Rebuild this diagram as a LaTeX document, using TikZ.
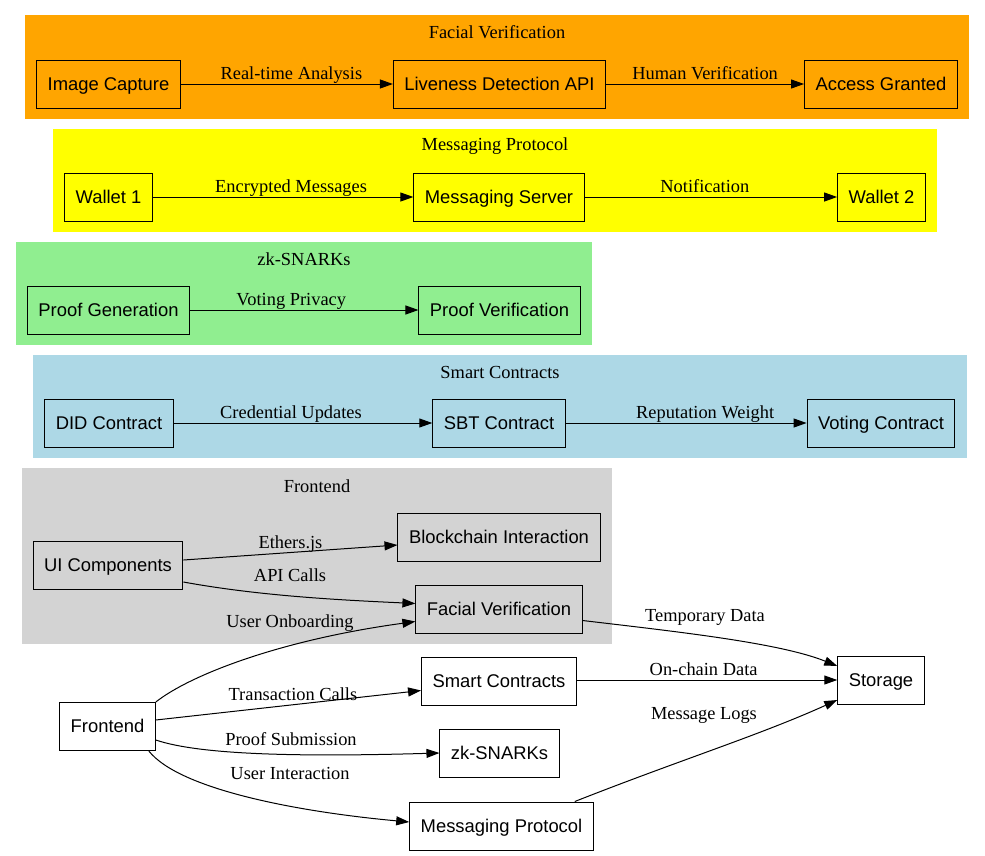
\documentclass[tikz,border=0pt]{standalone}
\usepackage{fontspec}
\setmainfont{Liberation Serif}
\newfontfamily\boxfont{Liberation Sans}
\usepackage{tikz}
\usetikzlibrary{arrows.meta}

\definecolor{clorange}{HTML}{FFA500}
\definecolor{clyellow}{HTML}{FFFF00}
\definecolor{clgreen}{HTML}{90EE90}
\definecolor{clblue}{HTML}{ADD8E6}
\definecolor{clgray}{HTML}{D3D3D3}

\tikzset{
  box/.style={draw, line width=1pt, minimum height=48pt, inner xsep=11pt,
              text height=16pt, text depth=4pt,
              font=\boxfont\fontsize{18.4}{22}\selectfont},
  wbox/.style={box, fill=white},
  lbl/.style={font=\fontsize{18.4}{22}\selectfont, inner sep=0pt,
              text height=12.5pt, text depth=4pt},
  title/.style={font=\fontsize{18.4}{22}\selectfont},
  edge/.style={line width=1pt, -{Triangle[length=13pt,width=9pt]}}
}

\begin{document}
\begin{tikzpicture}[x=1pt, y=-1pt]
      \useasboundingbox (0, 0) rectangle (985, 855);
      % clusters
      \fill[clorange] (25, 15) rectangle (969, 119);
      \fill[clyellow] (53, 129) rectangle (937, 232);
      \fill[clgreen] (16, 242) rectangle (592, 345);
      \fill[clblue] (33, 355) rectangle (967, 458);
      \fill[clgray] (22, 468) rectangle (612, 644);
      \node[title] (tfacial) at (497, 32) {Facial Verification};
      \node[title] (tmsg) at (495, 146) {Messaging Protocol};
      \node[title] (tzk) at (304, 259) {zk-SNARKs};
      \node[title] (tsmart) at (500, 372) {Smart Contracts};
      \node[title] (tfront) at (317, 486) {Frontend};

      % facial verification
      \node[box] (imgcap) at (108.5, 84) {Image Capture};
      \node[box] (liveness) at (499.5, 84) {Liveness Detection API};
      \node[box] (access) at (881, 84) {Access Granted};
      \draw[edge] (imgcap) -- node[lbl, above, xshift=4.5pt] {Real-time Analysis} (liveness);
      \draw[edge] (liveness) -- node[lbl, above] {Human Verification} (access);

      % messaging protocol
      \node[box] (wallet1) at (108.5, 197) {Wallet 1};
      \node[box] (msgserver) at (499, 197) {Messaging Server};
      \node[box] (wallet2) at (881.5, 197) {Wallet 2};
      \draw[edge] (wallet1) -- node[lbl, above, xshift=8pt] {Encrypted Messages} (msgserver);
      \draw[edge] (msgserver) -- node[lbl, above, xshift=-6pt] {Notification} (wallet2);

      % zk-snarks
      \node[box] (proofgen) at (108.5, 310) {Proof Generation};
      \node[box] (proofver) at (499.5, 310) {Proof Verification};
      \draw[edge] (proofgen) -- node[lbl, above, xshift=-13pt] {Voting Privacy} (proofver);

      % smart contracts
      \node[box] (didc) at (109, 423) {DID Contract};
      \node[box] (sbtc) at (499, 423) {SBT Contract};
      \node[box] (votec) at (881, 423) {Voting Contract};
      \draw[edge] (didc) -- node[lbl, above, xshift=-12pt] {Credential Updates} (sbtc);
      \draw[edge] (sbtc) -- node[lbl, above, xshift=19pt] {Reputation Weight} (votec);

      % frontend
      \node[box] (uicomp) at (108, 565) {UI Components};
      \node[box] (chain) at (499, 537) {Blockchain Interaction};
      \node[box] (facialfe) at (499, 609.5) {Facial Verification};
      \draw[edge] ([yshift=5pt]uicomp.east) -- node[lbl, above] {Ethers.js} ([yshift=-8pt]chain.west);
      \draw[edge] ([yshift=-17pt]uicomp.east) .. controls (260, 596) and (340, 600) .. ([yshift=6pt]facialfe.west);
      \node[lbl] (lapi) at (290, 577) {API Calls};

      % top level
      \node[wbox] (frontend) at (107.5, 726.5) {Frontend};
      \node[wbox] (smartc) at (499, 681.5) {Smart Contracts};
      \node[wbox] (zkn) at (499.5, 753) {zk-SNARKs};
      \node[wbox] (msgprot) at (501.5, 826) {Messaging Protocol};
      \node[wbox] (storage) at (881, 680) {Storage};

      \draw[edge] (frontend.north east) .. controls (190, 675) and (280, 640) .. ([yshift=-12pt]facialfe.west);
      \node[lbl] (lonboard) at (290, 623.5) {User Onboarding};
      \draw[edge] ([yshift=6.5pt]frontend.east) -- node[lbl, above, xshift=4.5pt] {Transaction Calls} ([yshift=-9pt]smartc.west);
      \draw[edge] ([yshift=-13.5pt]frontend.east) .. controls (200, 755) and (300, 757) .. (zkn.west);
      \node[lbl] (lproof) at (291, 741.5) {Proof Submission};
      \draw[edge] ([xshift=-7pt]frontend.south east) .. controls (180, 790) and (300, 812) .. ([yshift=4pt]msgprot.west);
      \node[lbl] (luser) at (290, 775.5) {User Interaction};

      \draw[edge] ([yshift=-11pt]facialfe.east) .. controls (680, 632) and (780, 643) .. ([yshift=14pt]storage.west);
      \node[lbl] (ltemp) at (705, 617.5) {Temporary Data};
      \draw[edge] (smartc.east |- storage.west) -- node[lbl, above, xshift=-3.5pt] {On-chain Data} (storage.west);
      \draw[edge] ([xshift=-19pt]msgprot.north east) .. controls (680, 760) and (760, 735) .. ([yshift=-20pt]storage.west);
      \node[lbl] (llogs) at (704, 715.5) {Message Logs};
\end{tikzpicture}
\end{document}
